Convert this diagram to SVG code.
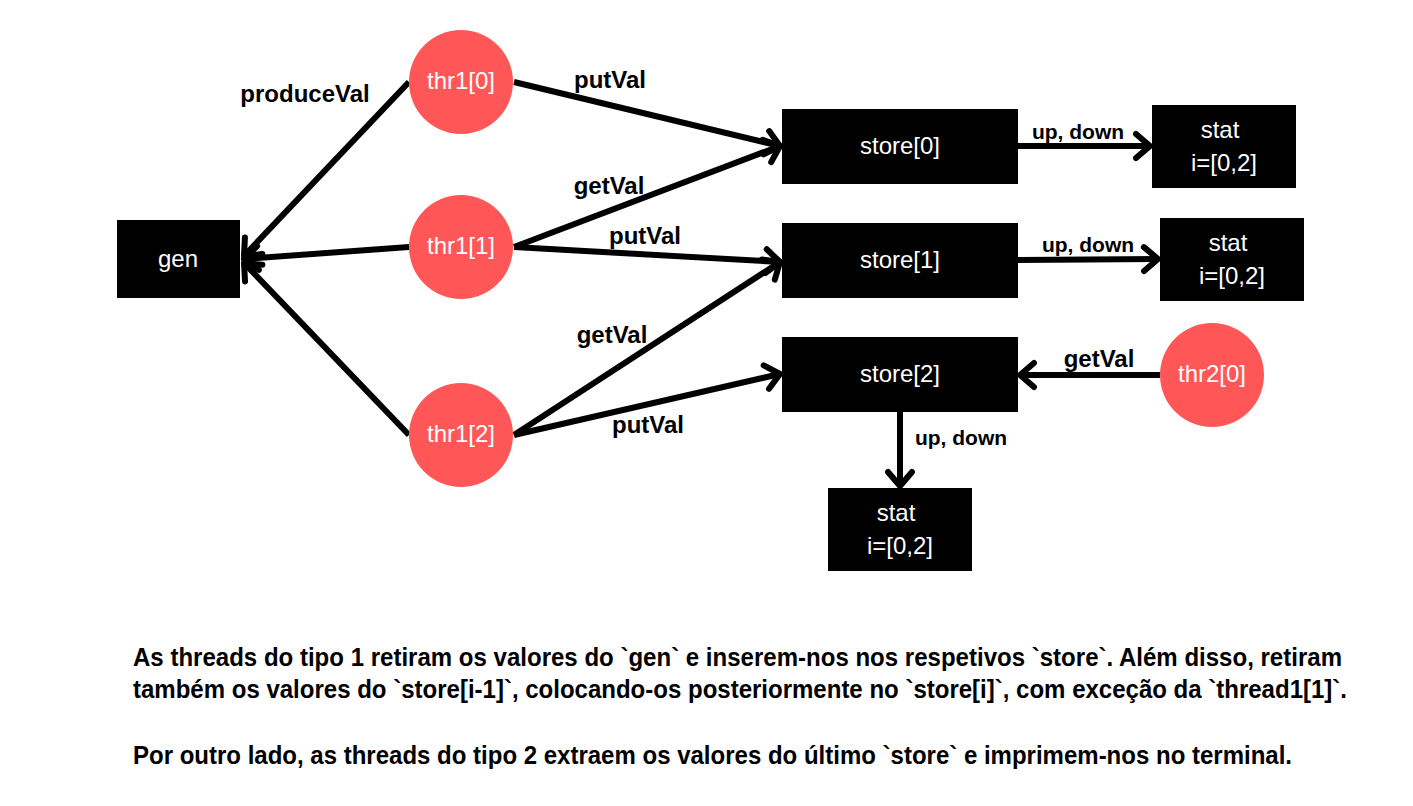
<svg xmlns="http://www.w3.org/2000/svg" width="1413" height="806" viewBox="0 0 1413 806">
<style>
.box{fill:#000}
.thr{fill:#ff5757}
.nt{font-family:"Liberation Sans",Arial,sans-serif;font-size:24px;fill:#fff;text-anchor:middle;dominant-baseline:central}
.lbl{font-family:"Liberation Sans",Arial,sans-serif;font-size:24px;font-weight:bold;fill:#000;text-anchor:middle}
.sl{font-size:21px}
.edge{stroke:#000;stroke-width:6;fill:none;marker-end:url(#ah)}
.desc{font-family:"Liberation Sans",Arial,sans-serif;font-size:26px;font-weight:bold;fill:#000}
</style>
<defs>
<marker id="ah" markerUnits="userSpaceOnUse" viewBox="-18 -14 22 28" refX="0" refY="0" markerWidth="22" markerHeight="28" orient="auto" overflow="visible">
<path d="M-14,-12 L0,0 L-14,12" fill="none" stroke="#000" stroke-width="6" stroke-linecap="round" stroke-linejoin="round"/>
</marker>
</defs>
<rect width="1413" height="806" fill="#fff"/>
<g id="connectors">
<line class="edge" x1="409" y1="82" x2="244" y2="256"/>
<line class="edge" x1="409" y1="247" x2="244" y2="259"/>
<line class="edge" x1="409" y1="435" x2="244" y2="263"/>
<line class="edge" x1="514" y1="82" x2="780" y2="146"/>
<line class="edge" x1="514" y1="247" x2="780" y2="146"/>
<line class="edge" x1="514" y1="247" x2="780" y2="262"/>
<line class="edge" x1="514" y1="435" x2="780" y2="262"/>
<line class="edge" x1="514" y1="435" x2="780" y2="374"/>
<line class="edge" x1="1018" y1="146" x2="1150" y2="146"/>
<line class="edge" x1="1018" y1="260" x2="1158" y2="259"/>
<line class="edge" x1="1160" y1="375" x2="1020" y2="375"/>
<line class="edge" x1="900" y1="412" x2="900" y2="486"/>
<text class="lbl" x="305" y="102">produceVal</text>
<text class="lbl" x="610" y="88">putVal</text>
<text class="lbl" x="609" y="194">getVal</text>
<text class="lbl" x="645" y="244">putVal</text>
<text class="lbl" x="612" y="343">getVal</text>
<text class="lbl" x="648" y="433">putVal</text>
<text class="lbl sl" x="1078" y="139">up, down</text>
<text class="lbl sl" x="1088" y="252">up, down</text>
<text class="lbl" x="1099" y="367">getVal</text>
<text class="lbl sl" x="961" y="445">up, down</text>
</g>
<g id="gen"><rect class="box" x="117" y="220" width="123" height="78"/><text class="nt" x="178" y="258">gen</text></g>
<g id="thr1_0"><circle class="thr" cx="461" cy="82" r="52"/><text class="nt" x="461" y="80">thr1[0]</text></g>
<g id="thr1_1"><circle class="thr" cx="461" cy="247" r="52"/><text class="nt" x="461" y="245">thr1[1]</text></g>
<g id="thr1_2"><circle class="thr" cx="461" cy="435" r="52"/><text class="nt" x="461" y="433">thr1[2]</text></g>
<g id="thr2_0"><circle class="thr" cx="1212" cy="375" r="52"/><text class="nt" x="1212" y="373">thr2[0]</text></g>
<g id="store0"><rect class="box" x="782" y="109" width="236" height="75"/><text class="nt" x="900" y="145">store[0]</text></g>
<g id="store1"><rect class="box" x="782" y="223" width="236" height="75"/><text class="nt" x="900" y="259">store[1]</text></g>
<g id="store2"><rect class="box" x="782" y="337" width="236" height="75"/><text class="nt" x="900" y="373">store[2]</text></g>
<g id="stat0"><rect class="box" x="1152" y="105" width="144" height="83"/><text class="nt" x="1220" y="129">stat</text><text class="nt" x="1224" y="162">i=[0,2]</text></g>
<g id="stat1"><rect class="box" x="1160" y="218" width="144" height="83"/><text class="nt" x="1228" y="242">stat</text><text class="nt" x="1232" y="275">i=[0,2]</text></g>
<g id="stat2"><rect class="box" x="828" y="488" width="144" height="83"/><text class="nt" x="896" y="512">stat</text><text class="nt" x="900" y="545">i=[0,2]</text></g>
<g id="description">
<text class="desc" x="133" y="666" textLength="1209" lengthAdjust="spacingAndGlyphs">As threads do tipo 1 retiram os valores do `gen` e inserem-nos nos respetivos `store`. Além disso, retiram</text>
<text class="desc" x="133" y="698" textLength="1214" lengthAdjust="spacingAndGlyphs">também os valores do `store[i-1]`, colocando-os posteriormente no `store[i]`, com exceção da `thread1[1]`.</text>
<text class="desc" x="133" y="764" textLength="1159" lengthAdjust="spacingAndGlyphs">Por outro lado, as threads do tipo 2 extraem os valores do último `store` e imprimem-nos no terminal.</text>
</g>
</svg>
